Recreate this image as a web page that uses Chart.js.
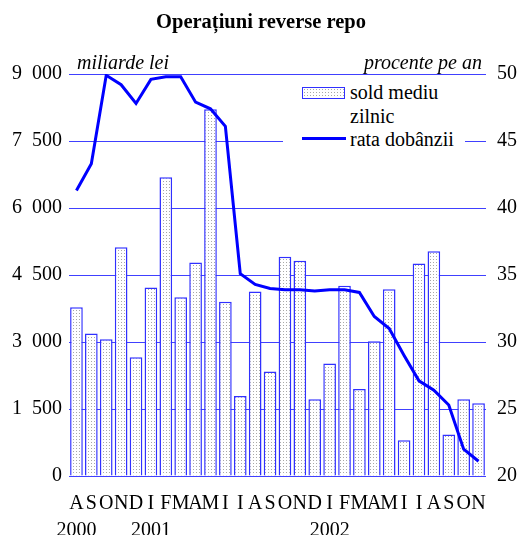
<!DOCTYPE html>
<html>
<head>
  <meta charset="utf-8">
  <title>Operațiuni reverse repo</title>
  <script src="https://cdn.jsdelivr.net/npm/chart.js"></script>
  <style>
    body {
      margin: 0;
      background: #fff;
      font-family: "Liberation Serif", "Times New Roman", serif;
    }
    #wrap {
      position: relative;
      width: 522px;
      height: 535px;
    }
    .txt {
      position: absolute;
      font-family: "Liberation Serif", serif;
      font-size: 20px;
      line-height: 24px;
      white-space: nowrap;
      color: #000;
    }
    #title {
      left: 0;
      width: 522px;
      top: 9px;
      text-align: center;
      font-weight: bold;
      font-size: 20.5px;
    }
    .unit { font-style: italic; top: 50px; }
    #legend {
      position: absolute;
      left: 283px;
      top: 80px;
      width: 182px;
      height: 76px;
      background: #fff;
    }
    #swatch {
      position: absolute;
      left: 19px;
      top: 7px;
      width: 41px;
      height: 10px;
      border: 1.5px solid #3030ff;
    }
    #lineSample {
      position: absolute;
      left: 19px;
      top: 57px;
      width: 44px;
      height: 3px;
      background: #0000ff;
    }
  </style>
</head>
<body>
  <div id="wrap">
    <canvas id="chart" width="522" height="535"></canvas>
    <div class="txt" id="title">Operațiuni reverse repo</div>
    <div class="txt unit" style="left:77px">miliarde lei</div>
    <div class="txt unit" style="right:40px">procente pe an</div>
    <div id="legend">
      <div id="swatch"></div>
      <div class="txt" style="left:67px; top:0px">sold mediu</div>
      <div class="txt" style="left:67px; top:24px">zilnic</div>
      <div id="lineSample"></div>
      <div class="txt" style="left:67px; top:47px">rata dobânzii</div>
    </div>
  </div>

  <script>
    // luni: aug 2000 - nov 2002
    const months = ["A", "S", "O", "N", "D",
      "I", "F", "M", "A", "M", "I", "I", "A", "S", "O", "N", "D",
      "I", "F", "M", "A", "M", "I", "I", "A", "S", "O", "N"];
    const yearLabels = {0: "2000", 5: "2001", 17: "2002"};

    // sold mediu zilnic (miliarde lei)
    const soldMediu = [3780, 3190, 3060, 5120, 2660,
      4220, 6690, 4000, 4780, 8210, 3900, 1790, 4130, 2340, 4910, 4820, 1720,
      2520, 4260, 1950, 3015, 4180, 800, 4760, 5030, 930, 1720, 1630];

    // rata dobanzii (procente pe an)
    const rataDobanzii = [41.3, 43.3, 49.9, 49.2, 47.8,
      49.6, 49.8, 49.8, 47.9, 47.4, 46.1, 35.1, 34.3, 34.0, 33.9, 33.9, 33.8,
      33.9, 33.9, 33.7, 31.9, 31.0, 29.0, 27.1, 26.4, 25.3, 22.0, 21.1];

    const leftTicks = [0, 1500, 3000, 4500, 6000, 7500, 9000];
    const rightTicks = [20, 25, 30, 35, 40, 45, 50];

    const labels = months.map((m, i) => yearLabels[i] ? [m, yearLabels[i]] : m);

    // dotted fill for the bars
    const pc = document.createElement("canvas");
    pc.width = 3; pc.height = 3;
    const pctx = pc.getContext("2d");
    pctx.fillStyle = "#fff";
    pctx.fillRect(0, 0, 3, 3);
    pctx.fillStyle = "#a8a8a8";
    pctx.fillRect(1, 1, 1, 1);
    document.getElementById("swatch").style.background = "url(" + pc.toDataURL() + ")";

    const ctx = document.getElementById("chart").getContext("2d");
    const dotPattern = ctx.createPattern(pc, "repeat");

    // thousands separated by an en space, as in "9 000"
    const fmt = v => String(v).replace(/\B(?=(\d{3})+(?!\d))/g, "\u2002");

    new Chart(ctx, {
      type: "bar",
      data: {
        labels: labels,
        datasets: [
          {
            type: "line",
            label: "rata dobânzii",
            data: rataDobanzii,
            yAxisID: "y1",
            borderColor: "#0000ff",
            borderWidth: 3,
            pointRadius: 0,
            tension: 0,
            order: 0
          },
          {
            label: "sold mediu zilnic",
            data: soldMediu,
            yAxisID: "y",
            backgroundColor: dotPattern,
            borderColor: "#3030ff",
            borderWidth: 1.5,
            barPercentage: 0.85,
            categoryPercentage: 1.0,
            order: 1
          }
        ]
      },
      options: {
        responsive: false,
        animation: false,
        layout: { padding: { top: 74, left: 0, right: 0, bottom: 0 } },
        plugins: {
          legend: { display: false },
          tooltip: { enabled: false }
        },
        scales: {
          x: {
            grid: { display: false, drawTicks: false },
            border: { display: false },
            ticks: {
              autoSkip: false,
              maxRotation: 0,
              padding: 14,
              color: "#000",
              font: { family: "Liberation Serif", size: 20, lineHeight: 1.35 }
            },
            afterFit: s => { s.height = 59; }
          },
          y: {
            position: "left",
            min: 0,
            max: 9000,
            afterBuildTicks: s => { s.ticks = leftTicks.map(v => ({ value: v })); },
            grid: { color: "#4040ff", lineWidth: 1, drawTicks: false },
            border: { display: false },
            ticks: {
              padding: 7,
              color: "#000",
              font: { family: "Liberation Serif", size: 20 },
              callback: v => fmt(v)
            },
            afterFit: s => { s.width = 69; }
          },
          y1: {
            position: "right",
            min: 20,
            max: 50,
            afterBuildTicks: s => { s.ticks = rightTicks.map(v => ({ value: v })); },
            grid: { display: false, drawTicks: false },
            border: { display: false },
            ticks: {
              padding: 11,
              color: "#000",
              font: { family: "Liberation Serif", size: 20 }
            },
            afterFit: s => { s.width = 36; }
          }
        }
      }
    });
  </script>
</body>
</html>
